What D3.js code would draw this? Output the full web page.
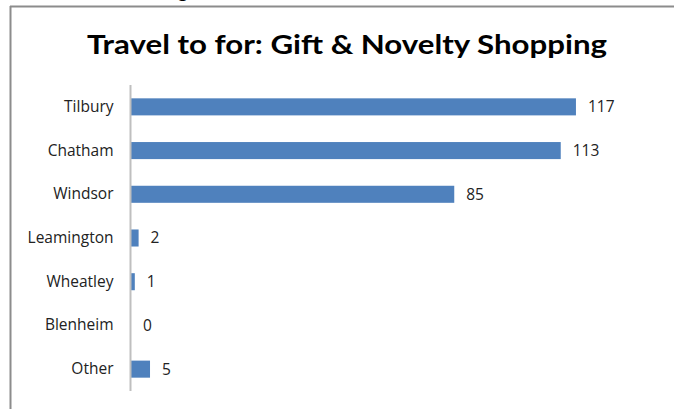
<!DOCTYPE html>
<html>
<head>
<meta charset="utf-8">
<script src="https://cdn.jsdelivr.net/npm/d3@7"></script>
<style>
  html, body { margin: 0; padding: 0; background: #fff; }
  svg { display: block; }
</style>
</head>
<body>
<svg id="chart" width="674" height="409"></svg>
<script>
// Destinations and number of responses
const categories = ["Tilbury", "Chatham", "Windsor", "Leamington", "Wheatley", "Blenheim", "Other"];
const values = [117, 113, 85, 2, 1, 0, 5];
const chartTitle = "Travel to for: Gift & Novelty Shopping";

const svg = d3.select("#chart");
const titleFont = "Lato, 'Open Sans', sans-serif";
const labelFont = "'Open Sans', 'Noto Sans', sans-serif";

// Frame of the chart box
svg.append("line").attr("x1", 10.5).attr("x2", 10.5).attr("y1", 6).attr("y2", 409)
  .attr("stroke", "#8c8c8c").attr("stroke-width", 2);
svg.append("line").attr("x1", 10).attr("x2", 674).attr("y1", 6.5).attr("y2", 6.5)
  .attr("stroke", "#8c8c8c").attr("stroke-width", 2);

// Trailing text of the line above the box
svg.append("text").attr("x", 188).attr("y", -2)
  .attr("text-anchor", "end")
  .attr("font-family", titleFont).attr("font-size", 20)
  .attr("fill", "#000").text("ing");

// Title
svg.append("text")
  .attr("x", 347).attr("y", 54)
  .attr("text-anchor", "middle")
  .attr("font-family", titleFont).attr("font-weight", "bold")
  .attr("font-size", 27).attr("fill", "#000")
  .attr("textLength", 520).attr("lengthAdjust", "spacingAndGlyphs")
  .text(chartTitle);

const x = d3.scaleLinear().domain([0, 140]).range([131, 131 + 140 * 3.803]);
const y = d3.scaleBand().domain(categories).range([85, 391]).paddingInner(0.61).paddingOuter(0.305);

// Bars
svg.append("g").selectAll("rect").data(values).join("rect")
  .attr("x", x(0))
  .attr("y", (d, i) => y(categories[i]))
  .attr("width", d => x(d) - x(0))
  .attr("height", y.bandwidth())
  .attr("fill", "#4f81bd");

// Category axis
const axis = d3.axisLeft(y).tickSize(0).tickPadding(17);
const g = svg.append("g").attr("transform", `translate(${x(0) - 0.5},0)`).call(axis);
g.select(".domain").attr("stroke", "#bfbfbf").attr("stroke-width", 2)
  .attr("d", "M0,85V391");
g.selectAll("text").attr("font-family", labelFont).attr("font-size", 15.5).attr("fill", "#222");

// Value labels
svg.append("g").selectAll("text").data(values).join("text")
  .attr("x", d => x(d) + 12)
  .attr("y", (d, i) => y(categories[i]) + y.bandwidth() / 2)
  .attr("dy", "0.35em")
  .attr("font-family", labelFont).attr("font-size", 15.5).attr("fill", "#222")
  .text(d => d);
</script>
</body>
</html>
